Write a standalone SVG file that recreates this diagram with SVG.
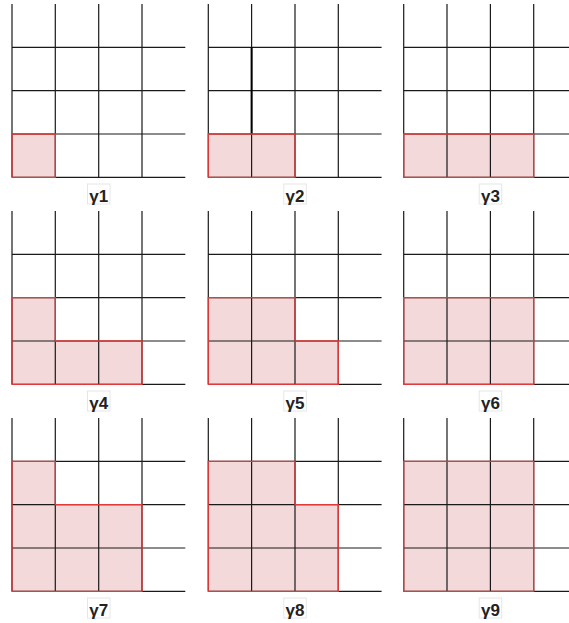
<svg xmlns="http://www.w3.org/2000/svg" width="569" height="623" viewBox="0 0 569 623">
<style>
.g{stroke:#1a1a1a;stroke-width:1.2;fill:none}
.f{fill:#f3d9da;stroke:none}
.o{fill:none;stroke:#e03a3a;stroke-width:1.3}
.lb{fill:#ffffff;stroke:#e6e6e6;stroke-width:1}
.t{font-family:"Liberation Sans",Arial,sans-serif;font-weight:bold;font-size:17px;fill:#222;text-anchor:middle}
</style>
<defs>
<g id="grid">
<path class="g" d="M0 0V173.3M43.3 0V173.3M86.7 0V173.3M130 0V173.3M0 43.3H173.3M0 86.7H173.3M0 130H173.3M0 173.3H173.3"/>
</g>
</defs>
<g id="p1" transform="translate(12,4)">
<rect class="f" x="0" y="130" width="43.3" height="43.3"/>
<use href="#grid"/>
<path class="o" d="M0 130H43.3V173.3H0Z"/>
<rect class="lb" x="75.5" y="180" width="22.5" height="20"/><text class="t" x="86.7" y="198">γ1</text>
</g>
<g id="p2" transform="translate(208.3,4)">
<rect class="f" x="0" y="130" width="86.7" height="43.3"/>
<use href="#grid"/>
<path d="M43.3 43.3V130" stroke="#000" stroke-width="2"/>
<path class="o" d="M0 130H86.7V173.3H0Z"/>
<rect class="lb" x="75.5" y="180" width="22.5" height="20"/><text class="t" x="86.7" y="198">γ2</text>
</g>
<g id="p3" transform="translate(403.7,4)">
<rect class="f" x="0" y="130" width="130" height="43.3"/>
<use href="#grid"/>
<path class="o" d="M0 130H130V173.3H0Z"/>
<rect class="lb" x="75.5" y="180" width="22.5" height="20"/><text class="t" x="86.7" y="198">γ3</text>
</g>
<g id="p4" transform="translate(12,211)">
<path class="f" d="M0 86.7H43.3V130H130V173.3H0Z"/>
<use href="#grid"/>
<path class="o" d="M0 86.7H43.3V130H130V173.3H0Z"/>
<rect class="lb" x="75.5" y="180" width="22.5" height="20"/><text class="t" x="86.7" y="198">γ4</text>
</g>
<g id="p5" transform="translate(208.3,211)">
<path class="f" d="M0 86.7H86.7V130H130V173.3H0Z"/>
<use href="#grid"/>
<path class="o" d="M0 86.7H86.7V130H130V173.3H0Z"/>
<rect class="lb" x="75.5" y="180" width="22.5" height="20"/><text class="t" x="86.7" y="198">γ5</text>
</g>
<g id="p6" transform="translate(403.7,211)">
<path class="f" d="M0 86.7H130V173.3H0Z"/>
<use href="#grid"/>
<path class="o" d="M0 86.7H130V173.3H0Z"/>
<rect class="lb" x="75.5" y="180" width="22.5" height="20"/><text class="t" x="86.7" y="198">γ6</text>
</g>
<g id="p7" transform="translate(12,418)">
<path class="f" d="M0 43.3H43.3V86.7H130V173.3H0Z"/>
<use href="#grid"/>
<path class="o" d="M0 43.3H43.3V86.7H130V173.3H0Z"/>
<rect class="lb" x="75.5" y="180" width="22.5" height="20"/><text class="t" x="86.7" y="198">γ7</text>
</g>
<g id="p8" transform="translate(208.3,418)">
<path class="f" d="M0 43.3H86.7V86.7H130V173.3H0Z"/>
<use href="#grid"/>
<path class="o" d="M0 43.3H86.7V86.7H130V173.3H0Z"/>
<rect class="lb" x="75.5" y="180" width="22.5" height="20"/><text class="t" x="86.7" y="198">γ8</text>
</g>
<g id="p9" transform="translate(403.7,418)">
<path class="f" d="M0 43.3H130V173.3H0Z"/>
<use href="#grid"/>
<path class="o" d="M0 43.3H130V173.3H0Z"/>
<rect class="lb" x="75.5" y="180" width="22.5" height="20"/><text class="t" x="86.7" y="198">γ9</text>
</g>
</svg>
